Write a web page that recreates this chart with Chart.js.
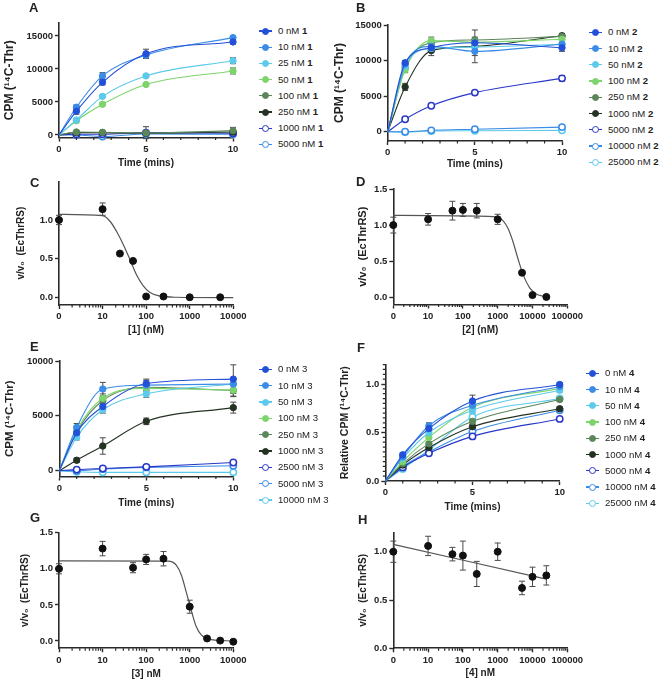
<!DOCTYPE html>
<html>
<head>
<meta charset="utf-8">
<script src="https://cdn.jsdelivr.net/npm/chart.js@4.4.0/dist/chart.umd.min.js"></script>
<style>
  body { margin: 0; background: #fff; }
  #page { position: relative; width: 660px; height: 681px; overflow: hidden;
          font-family: 'Liberation Sans', Arial, sans-serif; color: #222; }
  #page canvas { position: absolute; }
  .lbl { position: absolute; font-weight: bold; font-size: 13px; line-height: 13px; }
  .leg { position: absolute; font-size: 9.6px; line-height: 12px; white-space: nowrap; }
  .leg .ln { position: absolute; left: 0; top: 5.4px; width: 13px; height: 1.2px; }
  .leg .dot { position: absolute; left: 3px; top: 2.6px; width: 7px; height: 7px; border-radius: 50%; box-sizing: border-box; }
  .leg .tx { position: absolute; left: 19px; top: 0; }
</style>
</head>
<body>
<div id="page"></div>
<script>
// time points (mins) for the kinetic panels
var times = [1, 2.5, 5, 10];

// A: compound 1
var aConc = [0, 10, 25, 50, 100, 250, 1000, 5000];
var aCPM = [
  [3600, 7980, 12300, 14100],
  [4200, 8950, 12100, 14750],
  [2270, 5850, 8950, 11250],
  [2150, 4650, 7650, 9700],
  [450, 400, 300, 650],
  [350, 350, 250, 450],
  [100, 100, 350, 250],
  [0, -250, 150, 100]
];
var aSD = [
  [450, 400, 700, 300],
  [350, 500, 400, 200],
  [200, 150, 150, 450],
  [150, 150, 150, 450],
  [150, 100, 100, 500],
  [100, 100, 100, 300],
  [50, 50, 900, 100],
  [50, 50, 50, 50]
];

// B: compound 2
var bConc = [0, 10, 50, 100, 250, 1000, 5000, 10000, 25000];
var bCPM = [
  [9700, 11800, 12500, 11800],
  [9500, 12000, 11300, 12300],
  [9200, 11700, 11900, 12300],
  [8700, 12800, 12600, 13000],
  [9000, 12500, 12900, 13400],
  [6300, 11400, 12000, 13500],
  [1750, 3650, 5500, 7500],
  [0, 200, 350, 650],
  [-50, 100, 150, 200]
];
var bSD = [
  [300, 500, 500, 500],
  [300, 600, 600, 300],
  [300, 500, 500, 300],
  [400, 500, 500, 400],
  [300, 400, 400, 300],
  [500, 700, 2300, 300],
  [150, 150, 300, 400],
  [50, 50, 50, 100],
  [50, 50, 50, 50]
];

// E: compound 3
var eConc = [0, 10, 50, 100, 250, 1000, 2500, 5000, 10000];
var eCPM = [
  [3450, 5850, 7950, 8350],
  [3950, 7450, 7800, 7900],
  [3050, 5550, 7000, 7900],
  [3700, 6600, 7500, 7350],
  [3550, 6400, 7600, 7300],
  [950, 2250, 4500, 5750],
  [100, 200, 350, 750],
  [0, 150, 300, 450],
  [-100, -150, -150, -150]
];
var eSD = [
  [300, 400, 400, 1300],
  [350, 600, 450, 500],
  [250, 300, 300, 400],
  [300, 400, 300, 600],
  [300, 300, 300, 500],
  [200, 750, 300, 500],
  [50, 50, 50, 100],
  [50, 50, 50, 50],
  [50, 50, 50, 50]
];

// F: compound 4 (relative CPM)
var fConc = [0, 10, 50, 100, 250, 1000, 5000, 10000, 25000];
var fRel = [
  [0.27, 0.54, 0.825, 0.995],
  [0.25, 0.57, 0.78, 0.975],
  [0.235, 0.50, 0.73, 0.935],
  [0.20, 0.45, 0.76, 0.955],
  [0.18, 0.385, 0.615, 0.84],
  [0.165, 0.345, 0.56, 0.745],
  [0.14, 0.285, 0.46, 0.64],
  [0.15, 0.30, 0.51, 0.73],
  [0.125, 0.32, 0.66, 0.85]
];
var fSD = [
  [0.02, 0.03, 0.06, 0.02],
  [0.02, 0.03, 0.03, 0.02],
  [0.02, 0.02, 0.03, 0.02],
  [0.02, 0.02, 0.02, 0.02],
  [0.02, 0.02, 0.02, 0.02],
  [0.02, 0.02, 0.02, 0.02],
  [0.01, 0.01, 0.01, 0.01],
  [0.01, 0.01, 0.01, 0.01],
  [0.01, 0.01, 0.01, 0.01]
];

// C, D, G, H: dose response v/v0, with the fitted curve
var cConc = [0, 10, 25, 50, 100, 250, 1000, 5000];
var cV = [1.0, 1.14, 0.565, 0.47, 0.01, 0.01, 0.0, 0.0];
var cSD = [0.06, 0.08, 0, 0, 0, 0, 0, 0];
var cFitConc = [0, 10, 15, 21, 30, 43, 60, 85, 120, 205, 490, 10000];
var cFitV = [1.073, 1.056, 0.98, 0.85, 0.68, 0.48, 0.29, 0.15, 0.065, 0.017, 0.0, -0.005];

var dConc = [0, 10, 50, 100, 250, 1000, 5000, 10000, 25000];
var dV = [1.0, 1.08, 1.2, 1.21, 1.2, 1.08, 0.34, 0.03, 0.005];
var dSD = [0.11, 0.08, 0.13, 0.09, 0.1, 0.07, 0, 0, 0];
var dFitConc = [0, 930, 1450, 2000, 2750, 3900, 5400, 8300, 12900, 25000];
var dFitV = [1.135, 1.115, 1.055, 0.95, 0.77, 0.52, 0.31, 0.13, 0.046, 0.005];

var gConc = [0, 10, 50, 100, 250, 1000, 2500, 5000, 10000];
var gV = [1.0, 1.28, 1.015, 1.13, 1.14, 0.475, 0.035, 0.005, -0.01];
var gSD = [0.07, 0.1, 0.07, 0.07, 0.1, 0.09, 0, 0, 0];
var gFitConc = [0, 320, 490, 645, 830, 1100, 1410, 1860, 2880, 10000];
var gFitV = [1.11, 1.105, 1.05, 0.91, 0.68, 0.41, 0.2, 0.08, 0.023, 0.0];

var hConc = [0, 10, 50, 100, 250, 1000, 5000, 10000, 25000];
var hV = [1.0, 1.06, 0.975, 0.96, 0.77, 1.0, 0.625, 0.74, 0.755];
var hSD = [0.11, 0.1, 0.07, 0.15, 0.13, 0.09, 0.07, 0.1, 0.1];
var hFitConc = [0, 25000];
var hFitV = [1.076, 0.717];

var cpmTicks = [0, 5000, 10000, 15000];
var timeTicks = [0, 5, 10];
var ratioTicks = [0, 0.5, 1.0];

// ---- styles ----
var axisCol = '#2b2b2b';
var F = ['#2350d8', '#3a8ce6', '#5ccaea', '#7ed46c', '#5b865a', '#243224'];
var O = ['#2a38c8', '#3a8ce6', '#5ccaea'];
function sty(c, open) { return {c: c, open: open}; }
var st8 = [sty(F[0]), sty(F[1]), sty(F[2]), sty(F[3]), sty(F[4]), sty(F[5]), sty(O[0], 1), sty(O[1], 1)];
var st9 = [sty(F[0]), sty(F[1]), sty(F[2]), sty(F[3]), sty(F[4]), sty(F[5]), sty(O[0], 1), sty(O[1], 1), sty(O[2], 1)];

Chart.defaults.font.family = "'Liberation Sans', Arial, sans-serif";

var page = document.getElementById('page');

function pos(c) { return c === 0 ? 0 : Math.log10(c); }

function kineticSets(conc, vals, sd, styles) {
  return conc.map(function (c, i) {
    var s = styles[i];
    return {
      label: c + ' nM',
      data: [{x: 0, y: 0}].concat(times.map(function (t, j) { return {x: t, y: vals[i][j]}; })),
      errBars: times.map(function (t, j) { return {x: t, y: vals[i][j], e: sd[i][j]}; }),
      borderColor: s.c, borderWidth: 1.1,
      pointRadius: function (ctx) { return ctx.dataIndex === 0 ? 0 : 3.2; },
      pointBackgroundColor: s.open ? '#fff' : s.c,
      pointBorderColor: s.c, pointBorderWidth: s.open ? 1.5 : 1,
      cubicInterpolationMode: 'monotone', fill: false, clip: false
    };
  });
}

function doseSets(conc, vals, sd, fitConc, fitV) {
  return [{
    data: conc.map(function (c, i) { return {x: pos(c), y: vals[i]}; }),
    errBars: conc.map(function (c, i) { return {x: pos(c), y: vals[i], e: sd[i]}; }),
    showLine: false, pointRadius: 3.5, pointBackgroundColor: '#111', pointBorderColor: '#111', clip: false
  }, {
    data: fitConc.map(function (c, i) { return {x: pos(c), y: fitV[i]}; }),
    pointRadius: 0, borderColor: '#555', borderWidth: 1.2, cubicInterpolationMode: 'monotone', fill: false, clip: false
  }];
}

var errorBarPlugin = {
  id: 'errorBars',
  beforeDatasetsDraw: function (chart) {
    var ctx = chart.ctx, sx = chart.scales.x, sy = chart.scales.y;
    ctx.save();
    ctx.strokeStyle = '#4a4a4a';
    ctx.lineWidth = 1;
    chart.data.datasets.forEach(function (ds) {
      (ds.errBars || []).forEach(function (b) {
        if (!b.e) return;
        var x = sx.getPixelForValue(b.x);
        var y1 = sy.getPixelForValue(b.y - b.e), y2 = sy.getPixelForValue(b.y + b.e);
        ctx.beginPath();
        ctx.moveTo(x, y1); ctx.lineTo(x, y2);
        ctx.moveTo(x - 3, y1); ctx.lineTo(x + 3, y1);
        ctx.moveTo(x - 3, y2); ctx.lineTo(x + 3, y2);
        ctx.stroke();
      });
    });
    ctx.restore();
  }
};

var minorTickPlugin = {
  id: 'minorTicks',
  afterDraw: function (chart, args, opts) {
    var ctx = chart.ctx, a = chart.chartArea, sx = chart.scales.x, sy = chart.scales.y;
    ctx.save();
    ctx.strokeStyle = axisCol;
    ctx.lineWidth = 1.2;
    ctx.beginPath();
    (opts.x || []).forEach(function (v) {
      var px = sx.getPixelForValue(v);
      ctx.moveTo(px, a.bottom); ctx.lineTo(px, a.bottom + 2.5);
    });
    (opts.y || []).forEach(function (v) {
      var py = sy.getPixelForValue(v);
      ctx.moveTo(a.left, py); ctx.lineTo(a.left - 2.5, py);
    });
    ctx.stroke();
    ctx.restore();
  }
};

function axis(a, dir, size) {
  return {
    type: 'linear', min: a.min, max: a.max,
    afterBuildTicks: function (s) { s.ticks = a.ticks.map(function (v) { return {value: v}; }); },
    afterFit: function (s) { if (dir === 'x') s.height = size; else s.width = size; },
    border: {color: axisCol, width: 1.6},
    grid: {drawOnChartArea: false, drawTicks: true, tickLength: 4, tickColor: axisCol, tickWidth: 1.4},
    ticks: {callback: function (v) { return a.fmt(v); }, font: {size: 9.5, weight: 'bold'}, color: '#222',
            padding: 2, maxRotation: 0, autoSkip: false},
    title: {display: true, text: a.title, font: {size: a.titleSize || 10, weight: 'bold'}, color: '#222', padding: 0}
  };
}

function makeChart(p) {
  var cv = document.createElement('canvas');
  var h = Math.round(p.xTitleY + 6 - p.box.top);
  cv.width = p.box.width; cv.height = h;
  cv.style.left = p.box.left + 'px'; cv.style.top = p.box.top + 'px';
  cv.style.width = p.box.width + 'px'; cv.style.height = h + 'px';
  page.appendChild(cv);
  var half = (p.y.titleSize || 10) * 0.6;
  var padL = p.yTitleX - half - p.box.left;
  new Chart(cv, {
    type: 'line',
    data: {datasets: p.datasets},
    options: {
      responsive: false, animation: false, devicePixelRatio: 1,
      layout: {padding: {left: padL, top: p.plot.t - p.box.top, right: p.box.left + p.box.width - p.plot.r, bottom: 0}},
      plugins: {legend: {display: false}, tooltip: {enabled: false}, minorTicks: {x: p.x.minor, y: p.y.minor}},
      scales: {
        x: axis(p.x, 'x', p.box.top + h - p.plot.b),
        y: axis(p.y, 'y', p.plot.l - p.box.left - padL)
      }
    },
    plugins: [errorBarPlugin, minorTickPlugin]
  });
}

function legend(x, y0, dy, conc, cmpd, styles, bold) {
  conc.forEach(function (c, i) {
    var s = styles[i];
    var d = document.createElement('div');
    d.className = 'leg';
    d.style.left = x + 'px';
    d.style.top = (y0 + i * dy - 6) + 'px';
    d.innerHTML = '<span class="ln" style="background:' + s.c + '"></span>' +
      '<span class="dot" style="background:' + (s.open ? '#fff' : s.c) + ';border:' + (s.open ? '1.5px' : '1px') + ' solid ' + s.c + '"></span>' +
      '<span class="tx">' + c + ' nM ' + (bold ? '<b>' + cmpd + '</b>' : cmpd) + '</span>';
    page.appendChild(d);
  });
}

function letter(t, x, y) {
  var d = document.createElement('div');
  d.className = 'lbl';
  d.style.left = x + 'px'; d.style.top = y + 'px';
  d.textContent = t;
  page.appendChild(d);
}

function fmtInt(v) { return String(v); }
function fmt1(v) { return v.toFixed(1); }
function fmtLog(v) { return v === 0 ? '0' : String(Math.round(Math.pow(10, v))); }
function logMinor(decades) {
  var out = [];
  for (var n = 0; n < decades; n++) for (var k = 2; k <= 9; k++) out.push(n + Math.log10(k));
  return out;
}
var timeMinor = [1, 2, 3, 4, 6, 7, 8, 9];
function rng(a, b) { var out = []; for (var i = a; i <= b; i++) out.push(i); return out; }

var cpmTitle = 'CPM (\u00b9\u2074C-Thr)';
var vTitle = 'v/v\u2080  (EcThrRS)';

// A
makeChart({
  box: {left: 0, top: 0, width: 250}, plot: {l: 59, r: 233, t: 22.8, b: 137.6}, yTitleX: 10, xTitleY: 163,
  datasets: kineticSets(aConc, aCPM, aSD, st8),
  x: {min: 0, max: 10, ticks: timeTicks, minor: timeMinor, fmt: fmtInt, title: 'Time (mins)'},
  y: {min: -400, max: 17000, ticks: cpmTicks, fmt: fmtInt, title: cpmTitle, titleSize: 12}
});
// B
makeChart({
  box: {left: 330, top: 0, width: 255}, plot: {l: 387.7, r: 562, t: 25, b: 141}, yTitleX: 340, xTitleY: 164,
  datasets: kineticSets(bConc, bCPM, bSD, st9),
  x: {min: 0, max: 10, ticks: timeTicks, minor: timeMinor, fmt: fmtInt, title: 'Time (mins)'},
  y: {min: -1300, max: 15000, ticks: cpmTicks, fmt: fmtInt, title: cpmTitle, titleSize: 12}
});
// C
makeChart({
  box: {left: 0, top: 168, width: 250}, plot: {l: 59, r: 233.3, t: 181.3, b: 305}, yTitleX: 21, xTitleY: 330,
  datasets: doseSets(cConc, cV, cSD, cFitConc, cFitV),
  x: {min: 0, max: 4, ticks: rng(0, 4), minor: logMinor(4), fmt: fmtLog, title: '[1] (nM)'},
  y: {min: -0.1, max: 1.5, ticks: ratioTicks, fmt: fmt1, title: vTitle}
});
// D
makeChart({
  box: {left: 330, top: 168, width: 330}, plot: {l: 393.3, r: 567.3, t: 189, b: 304.5}, yTitleX: 363, xTitleY: 330,
  datasets: doseSets(dConc, dV, dSD, dFitConc, dFitV),
  x: {min: 0, max: 5, ticks: rng(0, 5), minor: logMinor(5), fmt: fmtLog, title: '[2] (nM)'},
  y: {min: -0.1, max: 1.5, ticks: [0, 0.5, 1.0, 1.5], fmt: fmt1, title: vTitle, titleSize: 11}
});
// E
makeChart({
  box: {left: 0, top: 335, width: 250}, plot: {l: 59.3, r: 233.3, t: 361, b: 476.5}, yTitleX: 10, xTitleY: 502.7,
  datasets: kineticSets(eConc, eCPM, eSD, st9),
  x: {min: 0, max: 10, ticks: timeTicks, minor: timeMinor, fmt: fmtInt, title: 'Time (mins)'},
  y: {min: -530, max: 10000, ticks: [0, 5000, 10000], fmt: fmtInt, title: cpmTitle, titleSize: 11.5}
});
// F
var fMinorY = [];
for (var i = 1; i <= 24; i++) if (i % 10 !== 0) fMinorY.push(i * 0.05);
makeChart({
  box: {left: 330, top: 335, width: 255}, plot: {l: 385.3, r: 559.7, t: 364.6, b: 481}, yTitleX: 345, xTitleY: 506.7,
  datasets: kineticSets(fConc, fRel, fSD, st9),
  x: {min: 0, max: 10, ticks: timeTicks, minor: timeMinor, fmt: fmtInt, title: 'Time (mins)'},
  y: {min: 0, max: 1.2, ticks: ratioTicks, minor: fMinorY, fmt: fmt1, title: 'Relative ' + cpmTitle, titleSize: 10.5}
});
// G
makeChart({
  box: {left: 0, top: 505, width: 250}, plot: {l: 59, r: 233.3, t: 532.7, b: 648.2}, yTitleX: 25, xTitleY: 673.5,
  datasets: doseSets(gConc, gV, gSD, gFitConc, gFitV),
  x: {min: 0, max: 4, ticks: rng(0, 4), minor: logMinor(4), fmt: fmtLog, title: '[3] nM'},
  y: {min: -0.1, max: 1.5, ticks: [0, 0.5, 1.0, 1.5], fmt: fmt1, title: vTitle}
});
// H
makeChart({
  box: {left: 330, top: 505, width: 330}, plot: {l: 393.3, r: 567.3, t: 532.4, b: 648.3}, yTitleX: 363, xTitleY: 673,
  datasets: doseSets(hConc, hV, hSD, hFitConc, hFitV),
  x: {min: 0, max: 5, ticks: rng(0, 5), minor: logMinor(5), fmt: fmtLog, title: '[4] nM'},
  y: {min: 0, max: 1.2, ticks: ratioTicks, fmt: fmt1, title: vTitle}
});

legend(259, 31, 16.2, aConc, '1', st8, true);
legend(589, 32.3, 16.25, bConc, '2', st9, true);
legend(259, 369.3, 16.33, eConc, '3', st9, false);
legend(586, 373.3, 16.25, fConc, '4', st9, true);

letter('A', 29, 1);
letter('B', 356, 1);
letter('C', 30, 176);
letter('D', 356, 175);
letter('E', 30, 340);
letter('F', 357, 341);
letter('G', 30, 511);
letter('H', 358, 513);
</script>
</body>
</html>
